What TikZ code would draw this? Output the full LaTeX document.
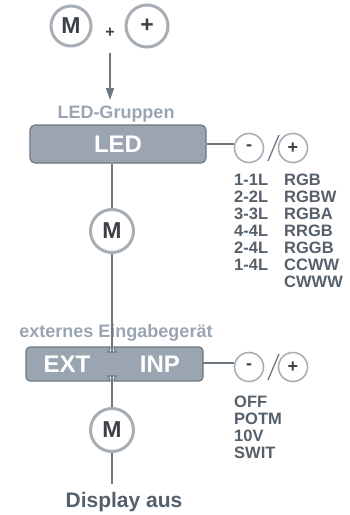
\documentclass[tikz,border=0pt]{standalone}
\usepackage{fontspec}
\setmainfont{Liberation Sans}
\usetikzlibrary{arrows.meta}
\definecolor{ringgray}{HTML}{A7AEB5}
\definecolor{wiregray}{HTML}{6F7781}
\definecolor{boxfill}{HTML}{9AA5B1}
\definecolor{boxline}{HTML}{6E7780}
\definecolor{keytext}{HTML}{3C4148}
\definecolor{labelgray}{HTML}{9AA5B2}
\definecolor{opttext}{HTML}{56606B}
\begin{document}
\begin{tikzpicture}[x=1pt, y=-1pt,
  ring/.style={circle, draw=ringgray, line width=3pt, minimum size=40pt, inner sep=0pt, text=keytext, font=\fontsize{23}{23}\selectfont\bfseries},
  knob/.style={circle, draw=ringgray, line width=1.6pt, minimum size=29pt, inner sep=0pt, text=keytext, font=\fontsize{18}{18}\selectfont\bfseries},
  wire/.style={draw=wiregray, line width=1.5pt},
  caption/.style={text=labelgray, font=\fontsize{18}{18}\selectfont\bfseries},
  opt/.style={text=opttext, anchor=west, inner sep=0pt, font=\fontsize{16.5}{16.5}\selectfont\bfseries},
  menubox/.style={fill=boxfill, draw=boxline, line width=1.2pt},
  boxlbl/.style={text=white, font=\fontsize{24}{24}\selectfont\bfseries}]
\useasboundingbox (0,0) rectangle (350,515);

% start keys
\node[ring] (mtop) at (71,26) {M};
\node[ring, minimum size=42pt] (ptop) at (147,26) {+};
\node[text=keytext, font=\fontsize{16}{16}\selectfont\bfseries] (sum) at (110,33) {+};
\node[caption] (grp) at (116,114) {LED-Gruppen};
\coordinate (arrtop) at (110,53);
\draw[wire, -{Triangle[width=8pt,length=12pt]}] (arrtop) -- (arrtop |- 0,100);

% LED groups
\node[menubox, rectangle, rounded corners=5pt, minimum width=176pt, minimum height=38pt, boxlbl] (led) at (118,144) {LED};
\node[knob] (minus1) at (249,148) {-};
\node[knob] (plus1) at (293,148) {+};
\draw[wire] (led.east) -- (minus1.west |- led.east);
\draw[wire, line width=1.3pt] (268,161) -- (279,135);
\foreach \a/\b [count=\i] in {1-1L/RGB, 2-2L/RGBW, 3-3L/RGBA, 4-4L/RRGB, 2-4L/RGGB, 1-4L/CCWW} {
  \node[opt] (la\i) at (234,163+17*\i) {\a};
  \node[opt] (lb\i) at (284,163+17*\i) {\b};
}
\node[opt] (lb7) at (284,282) {CWWW};

\node[ring, minimum size=43pt] (m1) at (112,231) {M};
\draw[wire] (led.south -| m1) -- (m1.north);

% external input
\node[caption] (egrp) at (116,333) {externes Eingabeger\"at};
\node[ring, minimum size=43pt] (m2) at (112,430) {M};
\coordinate (nt) at (112,352);
\coordinate (nb) at (112,376);
\draw[wire] (m1.south) -- (nt);
\draw[wire] (nb) -- (m2.north);
\draw[menubox, rounded corners=4pt] (26,364) -- (26,381) -- (106,381)
  .. controls (110,381) and (109,376) .. (nb)
  .. controls (115,376) and (114,381) .. (118,381)
  -- (203,381) -- (203,347) -- (118,347)
  .. controls (114,347) and (115,352) .. (nt)
  .. controls (109,352) and (110,347) .. (106,347)
  -- (26,347) -- cycle;
\coordinate (er) at (203,363);
\node[boxlbl] (ext) at (67,364) {EXT};
\node[boxlbl] (inp) at (160,364) {INP};

\node[knob] (minus2) at (249,367) {-};
\node[knob] (plus2) at (293,367) {+};
\draw[wire] (er) -- (minus2.west |- er);
\draw[wire, line width=1.3pt] (268,380) -- (279,354);
\foreach \a [count=\i] in {OFF, POTM, 10V, SWIT} {
  \node[opt] (ea\i) at (234,385+17*\i) {\a};
}

\node[text=opttext, font=\fontsize{21}{21}\selectfont\bfseries] (disp) at (124,502) {Display aus};
\draw[wire, shorten >=5pt] (m2.south) -- (disp.north -| m2);
\end{tikzpicture}
\end{document}
